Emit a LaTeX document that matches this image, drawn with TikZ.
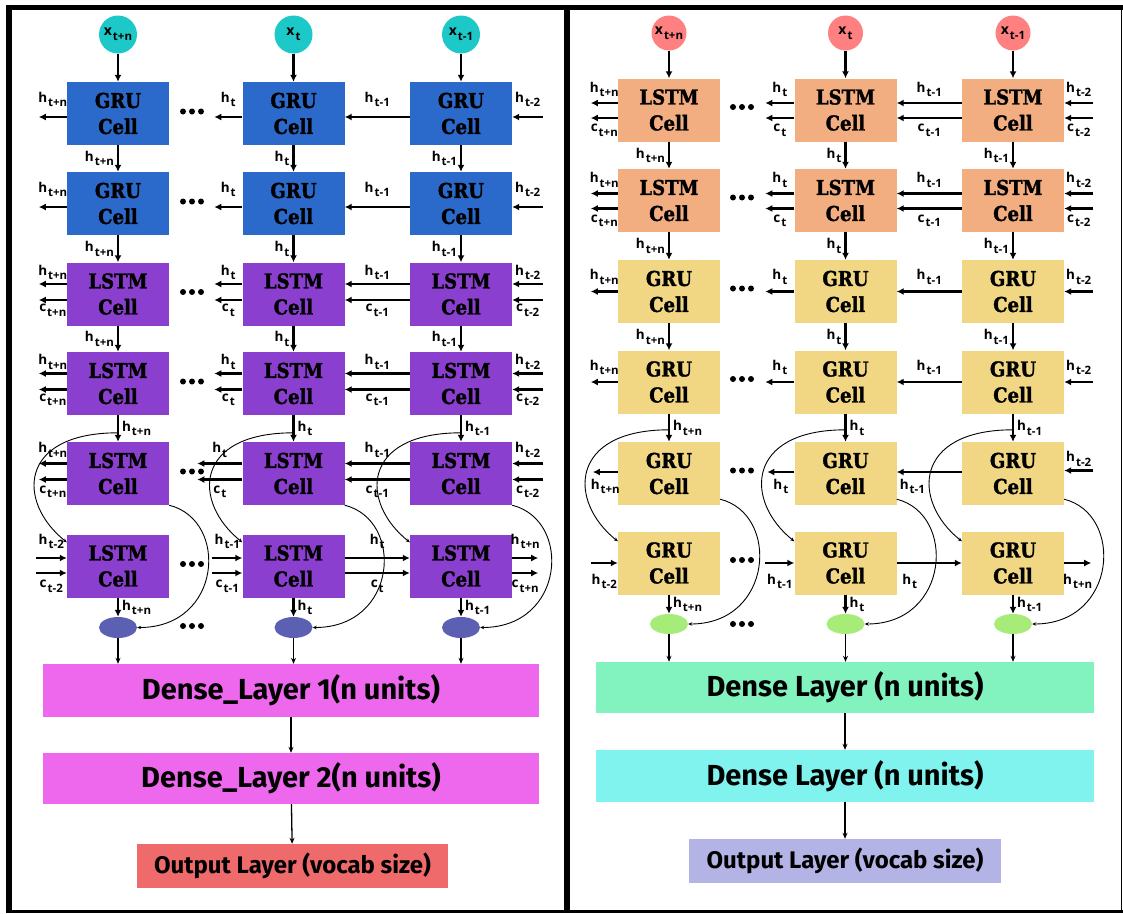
\documentclass[tikz,border=0pt]{standalone}
\usepackage{fontspec}
\usetikzlibrary{arrows.meta,shapes.geometric}
\newfontfamily\labfont{Open Sans}
\newfontfamily\cellfont[FakeStretch=0.88,BoldFeatures={FakeBold=1.5}]{DejaVu Serif}
\newfontfamily\densefont{Fira Sans}
\newcommand{\hsub}[2]{#1\hspace{1pt}\raisebox{-0.6ex}{\fontsize{11.5}{11.5}\selectfont#2}}
\definecolor{cInL}{HTML}{1CC8C8}
\definecolor{cGruL}{HTML}{2B6ACB}
\definecolor{cLstmL}{HTML}{8B3FCF}
\definecolor{cEllL}{HTML}{5C60B2}
\definecolor{cDenseL}{HTML}{EE68EE}
\definecolor{cOutL}{HTML}{EF6B6B}
\definecolor{cInR}{HTML}{FF8080}
\definecolor{cLstmR}{HTML}{F2AD80}
\definecolor{cGruR}{HTML}{F1D784}
\definecolor{cEllR}{HTML}{A7EB79}
\definecolor{cDenseRa}{HTML}{82F3BF}
\definecolor{cDenseRb}{HTML}{81F3EF}
\definecolor{cOutR}{HTML}{B3B3E6}
\tikzset{
  cell/.style={rectangle, minimum width=102, minimum height=63, inner sep=0, align=center,
    font=\cellfont\bfseries\fontsize{20.5}{26}\selectfont},
  inpt/.style={circle, inner sep=0, font=\labfont\bfseries\fontsize{14}{14}\selectfont},
  outdot/.style={ellipse, minimum width=38, minimum height=21, inner sep=0},
  dense/.style={rectangle, inner sep=0, font=\densefont\bfseries\fontsize{29}{29}\selectfont},
  outbox/.style={rectangle, inner sep=0, font=\densefont\bfseries\fontsize{24}{24}\selectfont},
  lab/.style={inner sep=0, font=\labfont\bfseries\fontsize{13.5}{13.5}\selectfont},
  arr/.style={line width=2.2, -{Latex[length=7pt,width=7pt]}},
  lineArr/.style={line width=1.3, -{Stealth[length=6pt,width=5pt]}},
  curveArr/.style={line width=0.9, -{Stealth[length=4pt,width=3.5pt]}}
}
\begin{document}
\begin{tikzpicture}[x=1pt,y=-1pt]
\useasboundingbox (0,0) rectangle (1123,913);
\fill (6,5) rectangle (1123,10);
\fill (6,5) rectangle (12,913);
\fill (564,5) rectangle (570,913);
\fill (6,910) rectangle (1123,913);
\fill (1120.5,5) rectangle (1122,913);

% left panel
\foreach \r/\y/\fc/\txt in {1/113.5/cGruL/GRU,2/203.5/cGruL/GRU,3/294/cLstmL/LSTM,4/383.5/cLstmL/LSTM,5/473.5/cLstmL/LSTM,6/566/cLstmL/LSTM}{
  \node[cell, fill=\fc] (LA\r) at (118,\y) {\txt\\Cell};
  \node[cell, fill=\fc] (LB\r) at (293.5,\y) {\txt\\Cell};
  \node[cell, fill=\fc] (LC\r) at (461,\y) {\txt\\Cell};
  \foreach \dx in {-9,0,9} \fill (192+\dx,\y-2) circle (3);
}
\foreach \dx in {-9,0,9} \fill (192+\dx,626) circle (3);

\foreach \col/\x/\sb in {A/118/t+n,B/293.5/t,C/461/t-1}{
  \node[inpt, fill=cInL, minimum size=38] (LX\col) at (\x,34.5) {\hsub{x}{\sb}};
  \draw[arr] (LX\col) -- (L\col1);
  \draw[arr] (L\col1) -- (L\col2) node[lab,midway,left=3pt]{\hsub{h}{\sb}};
  \draw[arr] (L\col2) -- (L\col3) node[lab,midway,left=3pt]{\hsub{h}{\sb}};
  \draw[arr] (L\col3) -- (L\col4) node[lab,midway,left=3pt]{\hsub{h}{\sb}};
  \draw[arr] (L\col4) -- (L\col5) node[lab,midway,right=3pt]{\hsub{h}{\sb}};
  \node[outdot, fill=cEllL] (LE\col) at (\x,627.5) {};
  \draw[arr] (L\col6) -- (LE\col) node[lab,midway,right=3pt]{\hsub{h}{\sb}};
  \draw[curveArr] ([yshift=9pt]L\col5.north) .. controls +(-100,0) and +(-50,-40) .. ([yshift=-8pt]L\col6.north west);
  \draw[curveArr] (L\col5.south east) .. controls +(60,15) and +(85,0) .. (LE\col.east);
}

\foreach \r in {1,2}{
  \draw[arr] ([yshift=-3.5pt]LA\r.west) -- ++(-28,0) node[lab,midway,above=9pt]{\hsub{h}{t+n}};
  \draw[arr] ([yshift=-3.5pt]LB\r.west) -- ++(-28,0) node[lab,midway,above=9pt]{\hsub{h}{t}};
  \draw[arr] ([yshift=-3.5pt]LC\r.west) -- ([yshift=-3.5pt]LB\r.east) node[lab,midway,above=9pt]{\hsub{h}{t-1}};
  \draw[arr] ([xshift=31pt,yshift=-3.5pt]LC\r.east) -- ([yshift=-3.5pt]LC\r.east) node[lab,midway,above=9pt]{\hsub{h}{t-2}};
}
\foreach \r/\lb/\g in {3/28/3pt,4/28/3pt,5/45/5pt}{
  \draw[arr] ([yshift=10pt]LA\r.west) -- ++(-28,0) node[lab,midway,above=\g]{\hsub{h}{t+n}};
  \draw[arr] ([yshift=-6pt]LA\r.west) -- ++(-28,0) node[lab,midway,below=\g]{\hsub{c}{t+n}};
  \draw[arr] ([yshift=10pt]LB\r.west) -- ++(-\lb,0) node[lab,midway,above=\g]{\hsub{h}{t}};
  \draw[arr] ([yshift=-6pt]LB\r.west) -- ++(-\lb,0) node[lab,midway,below=\g]{\hsub{c}{t}};
  \draw[arr] ([yshift=10pt]LC\r.west) -- ([yshift=10pt]LB\r.east) node[lab,midway,above=\g]{\hsub{h}{t-1}};
  \draw[arr] ([yshift=-6pt]LC\r.west) -- ([yshift=-6pt]LB\r.east) node[lab,midway,below=\g]{\hsub{c}{t-1}};
  \draw[arr] ([xshift=31pt,yshift=10pt]LC\r.east) -- ([yshift=10pt]LC\r.east) node[lab,midway,above=\g]{\hsub{h}{t-2}};
  \draw[arr] ([xshift=31pt,yshift=-6pt]LC\r.east) -- ([yshift=-6pt]LC\r.east) node[lab,midway,below=\g]{\hsub{c}{t-2}};
}
\draw[arr] ([xshift=-31pt,yshift=8pt]LA6.west) -- ([yshift=8pt]LA6.west) node[lab,midway,above=8pt]{\hsub{h}{t-2}};
\draw[arr] ([xshift=-31pt,yshift=-7pt]LA6.west) -- ([yshift=-7pt]LA6.west) node[lab,midway,below=6pt]{\hsub{c}{t-2}};
\draw[arr] ([xshift=-30pt,yshift=8pt]LB6.west) -- ([yshift=8pt]LB6.west) node[lab,midway,above=8pt]{\hsub{h}{t-1}};
\draw[arr] ([xshift=-30pt,yshift=-7pt]LB6.west) -- ([yshift=-7pt]LB6.west) node[lab,midway,below=6pt]{\hsub{c}{t-1}};
\draw[arr] ([yshift=8pt]LB6.east) -- ([yshift=8pt]LC6.west) node[lab,midway,above=8pt]{\hsub{h}{t}};
\draw[arr] ([yshift=-7pt]LB6.east) -- ([yshift=-7pt]LC6.west) node[lab,midway,below=6pt]{\hsub{c}{t}};
\draw[arr] ([yshift=8pt]LC6.east) -- ++(26,0) node[lab,midway,above=8pt]{\hsub{h}{t+n}};
\draw[arr] ([yshift=-7pt]LC6.east) -- ++(26,0) node[lab,midway,below=6pt]{\hsub{c}{t+n}};

\node[dense, fill=cDenseL, minimum width=496, minimum height=53] (LD1) at (291,690.5) {Dense\_Layer 1(n units)};
\node[dense, fill=cDenseL, minimum width=496, minimum height=51] (LD2) at (291,778.5) {Dense\_Layer 2(n units)};
\node[outbox, fill=cOutL, minimum width=311, minimum height=44] (LO) at (292.5,866) {Output Layer (vocab size)};
\foreach \col in {A,B,C} \draw[lineArr] (LE\col) -- (LE\col |- LD1.north);
\draw[lineArr] (LD1) -- (LD2);
\draw[lineArr] (LD2) -- (LO);

% right panel
\foreach \r/\y/\fc/\txt in {1/110/cLstmR/LSTM,2/200.5/cLstmR/LSTM,3/291.5/cGruR/GRU,4/382/cGruR/GRU,5/473.5/cGruR/GRU,6/563/cGruR/GRU}{
  \node[cell, fill=\fc] (RA\r) at (669,\y) {\txt\\Cell};
  \node[cell, fill=\fc] (RB\r) at (845.5,\y) {\txt\\Cell};
  \node[cell, fill=\fc] (RC\r) at (1013,\y) {\txt\\Cell};
  \foreach \dx in {-9,0,9} \fill (742+\dx,\y-3) circle (3);
}
\foreach \dx in {-9,0,9} \fill (742+\dx,624) circle (3);

\foreach \col/\x/\sb in {A/669/t+n,B/845.5/t,C/1013/t-1}{
  \node[inpt, fill=cInR, minimum size=35] (RX\col) at (\x,33) {\hsub{x}{\sb}};
  \draw[arr] (RX\col) -- (R\col1);
  \draw[arr] (R\col1) -- (R\col2) node[lab,midway,left=3pt]{\hsub{h}{\sb}};
  \draw[arr] (R\col2) -- (R\col3) node[lab,midway,left=3pt]{\hsub{h}{\sb}};
  \draw[arr] (R\col3) -- (R\col4) node[lab,midway,left=3pt]{\hsub{h}{\sb}};
  \draw[arr] (R\col4) -- (R\col5) node[lab,midway,right=3pt]{\hsub{h}{\sb}};
  \node[outdot, fill=cEllR, minimum height=20] (RE\col) at (\x,624) {};
  \draw[arr] (R\col6) -- (RE\col) node[lab,midway,right=3pt]{\hsub{h}{\sb}};
  \draw[curveArr] ([yshift=12pt]R\col5.north) .. controls +(-100,0) and +(-50,-40) .. ([yshift=-10pt]R\col6.north west);
  \draw[curveArr] ([yshift=6pt]R\col5.south east) .. controls +(60,15) and +(85,0) .. (RE\col.east);
}

\foreach \r in {1,2}{
  \draw[arr] ([yshift=7pt]RA\r.west) -- ++(-27,0) node[lab,midway,above=5pt]{\hsub{h}{t+n}};
  \draw[arr] ([yshift=-8pt]RA\r.west) -- ++(-27,0) node[lab,midway,below=5pt]{\hsub{c}{t+n}};
  \draw[arr] ([yshift=7pt]RB\r.west) -- ++(-29,0) node[lab,midway,above=5pt]{\hsub{h}{t}};
  \draw[arr] ([yshift=-8pt]RB\r.west) -- ++(-29,0) node[lab,midway,below=5pt]{\hsub{c}{t}};
  \draw[arr] ([yshift=7pt]RC\r.west) -- ([yshift=7pt]RB\r.east) node[lab,midway,above=5pt]{\hsub{h}{t-1}};
  \draw[arr] ([yshift=-8pt]RC\r.west) -- ([yshift=-8pt]RB\r.east) node[lab,midway,below=5pt]{\hsub{c}{t-1}};
  \draw[arr] ([xshift=29pt,yshift=7pt]RC\r.east) -- ([yshift=7pt]RC\r.east) node[lab,midway,above=5pt]{\hsub{h}{t-2}};
  \draw[arr] ([xshift=29pt,yshift=-8pt]RC\r.east) -- ([yshift=-8pt]RC\r.east) node[lab,midway,below=5pt]{\hsub{c}{t-2}};
}
\foreach \r in {3,4}{
  \draw[arr] (RA\r.west) -- ++(-27,0) node[lab,midway,above=6pt]{\hsub{h}{t+n}};
  \draw[arr] (RB\r.west) -- ++(-29,0) node[lab,midway,above=6pt]{\hsub{h}{t}};
  \draw[arr] (RC\r.west) -- (RB\r.east) node[lab,midway,above=6pt]{\hsub{h}{t-1}};
  \draw[arr] ([xshift=29pt]RC\r.east) -- (RC\r.east) node[lab,midway,above=6pt]{\hsub{h}{t-2}};
}
\draw[arr] ([yshift=1.5pt]RA5.west) -- ++(-25,0) node[lab,midway,below=6pt]{\hsub{h}{t+n}};
\draw[arr] ([yshift=1.5pt]RB5.west) -- ++(-27,0) node[lab,midway,below=6pt]{\hsub{h}{t}};
\draw[arr] ([yshift=1.5pt]RC5.west) -- ([yshift=1.5pt]RB5.east) node[lab,pos=0.76,below=6pt]{\hsub{h}{t-1}};
\draw[arr] ([xshift=29pt,yshift=3pt]RC5.east) -- ([yshift=3pt]RC5.east) node[lab,midway,above=3pt]{\hsub{h}{t-2}};
\draw[arr] ([xshift=-27pt]RA6.west) -- (RA6.west) node[lab,midway,below=10pt]{\hsub{h}{t-2}};
\draw[arr] ([xshift=-29pt]RB6.west) -- (RB6.west) node[lab,midway,below=10pt]{\hsub{h}{t-1}};
\draw[arr] (RB6.east) -- (RC6.west) node[lab,pos=0.2,below=10pt]{\hsub{h}{t}};
\draw[arr] (RC6.east) -- ++(27,0) node[lab,midway,below=10pt]{\hsub{h}{t+n}};

\node[dense, fill=cDenseRa, minimum width=498, minimum height=51] (RD1) at (845,687.5) {Dense Layer (n units)};
\node[dense, fill=cDenseRb, minimum width=498, minimum height=52] (RD2) at (845,776) {Dense Layer (n units)};
\node[outbox, fill=cOutR, minimum width=312, minimum height=44] (RO) at (845,861) {Output Layer (vocab size)};
\foreach \col in {A,B,C} \draw[lineArr] (RE\col) -- (RE\col |- RD1.north);
\draw[lineArr] (RD1) -- (RD2);
\draw[lineArr] (RD2) -- (RO);
\end{tikzpicture}
\end{document}
